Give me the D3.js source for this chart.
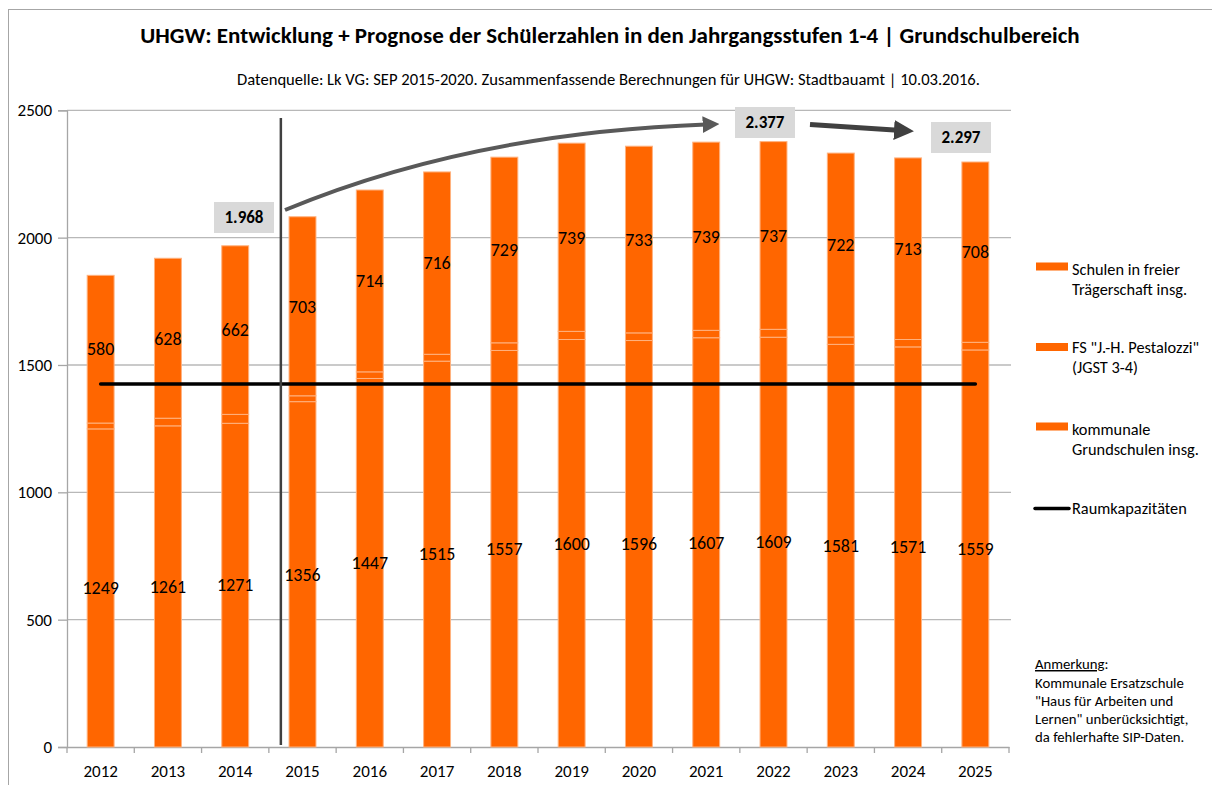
<!DOCTYPE html>
<html><head><meta charset="utf-8">
<script src="https://cdn.jsdelivr.net/npm/d3@7"></script>
<style>
html,body{margin:0;padding:0;background:#fff;}
svg{display:block;font-family:Carlito,Calibri,Lato,"Open Sans",sans-serif;}
</style></head>
<body>
<svg id="chart" width="1212" height="785"></svg>
<script>
// ---- data ----
const years = ["2012","2013","2014","2015","2016","2017","2018","2019","2020","2021","2022","2023","2024","2025"];
const kommunale = [1249,1261,1271,1356,1447,1515,1557,1600,1596,1607,1609,1581,1571,1559];
const pestalozzi = [23,30,35,23,26,27,30,32,30,29,31,29,29,30];
const freieTraeger = [580,628,662,703,714,716,729,739,733,739,737,722,713,708];
const raumkapazitaeten = [1425,1425,1425,1425,1425,1425,1425,1425,1425,1425,1425,1425,1425,1425];
const yTicks = [0,500,1000,1500,2000,2500];
const highlightYears = ["2014","2022","2025"];
const seriesNames = ["Schulen in freier|Trägerschaft insg.","FS \"J.-H. Pestalozzi\"|(JGST 3-4)","kommunale|Grundschulen insg."];
const lineName = "Raumkapazitäten";
const chartTitle = "UHGW: Entwicklung + Prognose der Schülerzahlen in den Jahrgangsstufen 1-4 | Grundschulbereich";
const chartSubtitle = "Datenquelle: Lk VG: SEP 2015-2020. Zusammenfassende Berechnungen für UHGW: Stadtbauamt | 10.03.2016.";
const noteLines = ["Kommunale Ersatzschule","\"Haus für Arbeiten und","Lernen\" unberücksichtigt,","da fehlerhafte SIP-Daten."];

(function(){
const svg = d3.select("#chart");
const orange = "#ff6600", barStroke = "#ffb27f";

// outer border
svg.append("rect").attr("x",8.5).attr("y",9.5).attr("width",1240).attr("height",800)
  .attr("fill","#fff").attr("stroke","#a6a6a6").attr("stroke-width",1);

const pL = 67, pR = 1009, pT = 110.3, pB = 747;
const x = d3.scaleBand().domain(years).range([pL,pR]).paddingInner(0.6).paddingOuter(0.3);
const y = d3.scaleLinear().domain([0,2500]).range([pB,pT]);

function fit(sel, target){
  const fs = parseFloat(sel.attr("font-size"));
  const w = sel.node().getComputedTextLength();
  const nf = fs*target/w;
  sel.attr("font-size", nf);
  return nf;
}

// title
const t = svg.append("text").attr("x",610).attr("y",43).attr("text-anchor","middle")
  .attr("font-weight","bold").attr("font-size",20).attr("fill","#000").text(chartTitle);
fit(t,940);
const st = svg.append("text").attr("x",608.5).attr("y",85).attr("text-anchor","middle")
  .attr("font-size",14).attr("fill","#000").text(chartSubtitle);
fit(st,743);

// gridlines
svg.append("g").selectAll("line").data(yTicks.filter(d=>d>0)).join("line")
  .attr("x1",pL).attr("x2",pR+2).attr("y1",d=>y(d)).attr("y2",d=>y(d))
  .attr("stroke","#b8b8b8").attr("stroke-width",1.3);

// axes
const yAxis = svg.append("g").attr("transform",`translate(${pL},0)`)
  .call(d3.axisLeft(y).tickValues(yTicks).tickSize(9).tickPadding(6).tickFormat(d3.format("d")));
yAxis.attr("font-family",null).attr("font-size",null);
yAxis.select(".domain").attr("stroke","#a6a6a6").attr("stroke-width",1.3);
yAxis.selectAll(".tick line").attr("stroke","#a6a6a6").attr("stroke-width",1.3);
yAxis.selectAll("text").attr("font-size",17).attr("fill","#000");

const xAxis = svg.append("g").attr("transform",`translate(0,${pB})`)
  .call(d3.axisBottom(x).tickSize(0).tickPadding(18));
xAxis.attr("font-family",null).attr("font-size",null);
xAxis.select(".domain").attr("stroke","#a6a6a6").attr("stroke-width",1.3);
xAxis.selectAll("text").attr("font-size",17).attr("fill","#000");
const bounds = years.map(d=>x(d)-x.step()*x.paddingInner()/2).concat([pR]);
xAxis.append("g").selectAll("line").data(bounds).join("line")
  .attr("x1",d=>d).attr("x2",d=>d).attr("y1",0).attr("y2",6)
  .attr("stroke","#a6a6a6").attr("stroke-width",1.3);

// stacked bars
const rows = years.map((yr,i)=>({year:yr, k:kommunale[i], p:pestalozzi[i], f:freieTraeger[i]}));
const stack = d3.stack().keys(["k","p","f"])(rows);
const gBars = svg.append("g");
stack.forEach(layer=>{
  gBars.append("g").selectAll("rect").data(layer).join("rect")
    .attr("x",d=>x(d.data.year)).attr("width",x.bandwidth())
    .attr("y",d=>y(d[1])).attr("height",d=>y(d[0])-y(d[1]))
    .attr("fill",orange).attr("stroke",barStroke).attr("stroke-width",1);
});
[stack[0],stack[2]].forEach(layer=>{
  gBars.append("g").selectAll("text").data(layer).join("text")
    .attr("x",d=>x(d.data.year)+x.bandwidth()/2)
    .attr("y",d=>(y(d[0])+y(d[1]))/2).attr("dy","0.35em")
    .attr("text-anchor","middle").attr("font-size",18).attr("fill","#000")
    .text(d=>d[1]-d[0]);
});

// Raumkapazitäten line
const line = d3.line().x((d,i)=>x(years[i])+x.bandwidth()/2).y(d=>y(d));
svg.append("path").datum(raumkapazitaeten).attr("d",line)
  .attr("fill","none").attr("stroke","#000").attr("stroke-width",3.5).attr("stroke-linecap","round");

// vertical separator
const sepX = x("2015") - x.step()*x.paddingInner()/2 + 12;
svg.append("line").attr("x1",sepX).attr("x2",sepX).attr("y1",118).attr("y2",pB-2)
  .attr("stroke","#404040").attr("stroke-width",2.5);

// arrows
const defs = svg.append("defs");
defs.append("marker").attr("id","ah1").attr("viewBox","0 0 10 10").attr("refX",2).attr("refY",5)
  .attr("markerWidth",4.2).attr("markerHeight",4.2).attr("orient","auto").attr("markerUnits","strokeWidth")
  .append("path").attr("d","M0,0 L10,5 L0,10 z").attr("fill","#595959");
defs.append("marker").attr("id","ah2").attr("viewBox","0 0 10 10").attr("refX",2).attr("refY",5)
  .attr("markerWidth",4).attr("markerHeight",4).attr("orient","auto").attr("markerUnits","strokeWidth")
  .append("path").attr("d","M0,0 L10,5 L0,10 z").attr("fill","#404040");

const totals = years.map((yr,i)=>kommunale[i]+pestalozzi[i]+freieTraeger[i]);
svg.append("path").attr("d","M285,210 Q470,133 706,124.5")
  .attr("fill","none").attr("stroke","#595959").attr("stroke-width",4).attr("marker-end","url(#ah1)");
svg.append("path").attr("d","M810,124.5 L898,130.3")
  .attr("fill","none").attr("stroke","#404040").attr("stroke-width",5).attr("marker-end","url(#ah2)");

// highlight boxes
const fmtDE = v => d3.format(",")(v).replace(/,/g,".");
const boxPos = {"2014":[214,202],"2022":[735,107],"2025":[931,122]};
highlightYears.forEach(yr=>{
  const i = years.indexOf(yr);
  const [bx,by] = boxPos[yr];
  svg.append("rect").attr("x",bx).attr("y",by).attr("width",60).attr("height",31).attr("fill","#d9d9d9");
  svg.append("text").attr("x",bx+30).attr("y",by+15.5).attr("dy","0.35em").attr("text-anchor","middle")
    .attr("font-weight","bold").attr("font-size",17).attr("fill","#000").text(fmtDE(totals[i]));
});

// legend
const leg = svg.append("g");
const legItems = [
  {name:seriesNames[0], cy:266.5, b:275},
  {name:seriesNames[1], cy:347, b:353},
  {name:seriesNames[2], cy:426.5, b:434.5}
];
let legFs = null;
legItems.forEach(it=>{
  leg.append("rect").attr("x",1036).attr("y",it.cy-4).attr("width",32).attr("height",8).attr("fill",orange);
  it.name.split("|").forEach((s,j)=>{
    const tt = leg.append("text").attr("x",1072).attr("y",it.b+j*20).attr("font-size",15).attr("fill","#000").text(s);
    if(legFs===null){ legFs = fit(tt,108); } else tt.attr("font-size",legFs);
  });
});
leg.append("line").attr("x1",1035).attr("x2",1069).attr("y1",508.5).attr("y2",508.5)
  .attr("stroke","#000").attr("stroke-width",3.5).attr("stroke-linecap","round");
leg.append("text").attr("x",1072).attr("y",514).attr("font-size",legFs).attr("fill","#000").text(lineName);

// note
const note = svg.append("g");
const nt = note.append("text").attr("x",1035).attr("y",669).attr("font-size",13).attr("fill","#000");
nt.append("tspan").attr("text-decoration","underline").text("Anmerkung");
nt.append("tspan").text(":");
let noteFs = null;
noteLines.forEach((s,j)=>{
  const tt = note.append("text").attr("x",1035).attr("y",687.5+j*18.3).attr("font-size",13).attr("fill","#000").text(s);
  if(noteFs===null){ noteFs = fit(tt,149); } else tt.attr("font-size",noteFs);
});
nt.attr("font-size",noteFs);
})();
</script>
</body></html>
